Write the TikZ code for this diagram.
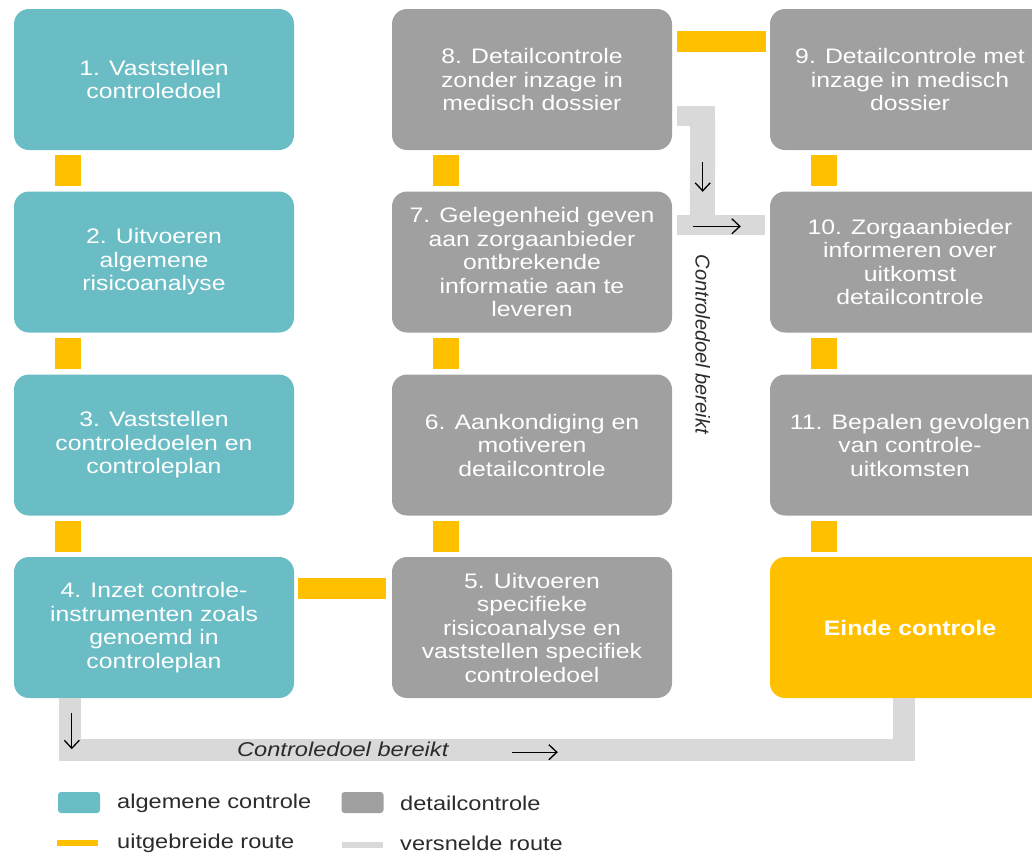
\documentclass[tikz,border=0pt]{standalone}
\usepackage{fontspec}
\setmainfont[FakeStretch=1.18]{Liberation Sans}
\newfontfamily\rechtsans{Liberation Sans}
\usepackage[dvipsnames]{xcolor}
\usepackage{tikz}
\usetikzlibrary{calc}
\usetikzlibrary{arrows, arrows.meta, positioning}

\definecolor{algcol}{HTML}{6BBDC5}
\definecolor{detcol}{HTML}{A0A0A0}
\definecolor{uitcol}{HTML}{FFC000}
\definecolor{verscol}{HTML}{D9D9D9}
\definecolor{legtekst}{HTML}{2B2B2B}

\tikzset{
  stap/.style={rounded corners=15pt, minimum width=280pt, minimum height=141pt,
    align=center, text=white, inner sep=2pt, font=\fontsize{21}{23.5}\selectfont},
  alg/.style={stap, fill=algcol},
  det/.style={stap, fill=detcol},
  einde/.style={stap, fill=uitcol, font=\fontsize{21}{23.5}\selectfont\bfseries},
  uitroute/.style={draw=uitcol, line width=#1},
  uitroute/.default=21pt,
  versroute/.style={draw=verscol, line width=#1},
  versroute/.default=21pt,
  pijl/.style={-{Straight Barb[length=8pt, width=15pt]}, line width=1.3pt, black},
  legvak/.style={rounded corners=3pt, minimum width=42pt, minimum height=21pt, inner sep=0pt},
  legtxt/.style={anchor=west, inner sep=0pt, text=legtekst, font=\fontsize{20}{22}\selectfont}
}

\begin{document}
\begin{tikzpicture}[x=1pt, y=-1pt]
				% Columns and rows
				\def\ka{154}
				\def\kb{532}
				\def\kc{910}
				\def\ra{79.5}
				\def\rb{262}
				\def\rc{445}
				\def\rd{627.5}
				
				\useasboundingbox (0,0) rectangle (1032,855);
				\clip (0,0) rectangle (1032,855);
				
				% Algemene controle
				\node[alg] (b1) at (\ka,\ra) {1. Vaststellen\\controledoel};
				\node[alg] (b2) at (\ka,\rb) {2. Uitvoeren\\algemene\\risicoanalyse};
				\node[alg] (b3) at (\ka,\rc) {3. Vaststellen\\controledoelen en\\controleplan};
				\node[alg] (b4) at (\ka,\rd) {4. Inzet controle-\\instrumenten zoals\\genoemd in\\controleplan};
				
				% Detailcontrole
				\node[det] (b5) at (\kb,\rd) {5. Uitvoeren\\specifieke\\risicoanalyse en\\vaststellen specifiek\\controledoel};
				\node[det] (b6) at (\kb,\rc) {6. Aankondiging en\\motiveren\\detailcontrole};
				\node[det] (b7) at (\kb,\rb) {7. Gelegenheid geven\\aan zorgaanbieder\\ontbrekende\\informatie aan te\\leveren};
				\node[det] (b8) at (\kb,\ra) {8. Detailcontrole\\zonder inzage in\\medisch dossier};
				\node[det] (b9) at (\kc,\ra) {9. Detailcontrole met\\inzage in medisch\\dossier};
				\node[det] (b10) at (\kc,\rb) {10. Zorgaanbieder\\informeren over\\uitkomst\\detailcontrole};
				\node[det] (b11) at (\kc,\rc) {11. Bepalen gevolgen\\van controle-\\uitkomsten};
				\node[einde] (eind) at (\kc,\rd) {Einde controle};
				
				% Uitgebreide route
				\draw[uitroute=26pt] ($(b1.south west)+(54,5)$) -- ($(b2.north west)+(54,-5)$);
				\draw[uitroute=26pt] ($(b2.south west)+(54,5)$) -- ($(b3.north west)+(54,-5)$);
				\draw[uitroute=26pt] ($(b3.south west)+(54,5)$) -- ($(b4.north west)+(54,-5)$);
				\draw[uitroute] ($(b4.north east)+(4,31.5)$) -- ($(b5.north west)+(-6,31.5)$);
				\draw[uitroute=26pt] ($(b5.north west)+(54,-5)$) -- ($(b6.south west)+(54,5)$);
				\draw[uitroute=26pt] ($(b6.north west)+(54,-5)$) -- ($(b7.south west)+(54,5)$);
				\draw[uitroute=26pt] ($(b7.north west)+(54,-5)$) -- ($(b8.south west)+(54,5)$);
				\draw[uitroute] ($(b8.north east)+(5,32.5)$) -- ($(b9.north west)+(-4,32.5)$);
				\draw[uitroute=26pt] ($(b9.south west)+(54,5)$) -- ($(b10.north west)+(54,-5)$);
				\draw[uitroute=26pt] ($(b10.south west)+(54,5)$) -- ($(b11.north west)+(54,-5)$);
				\draw[uitroute=26pt] ($(b11.south west)+(54,5)$) -- ($(eind.north west)+(54,-5)$);
				
				% Versnelde route van 8 naar 10
				\coordinate (v8) at ($(b8.north east)+(5,107)$);
				\coordinate (v10) at ($(b10.north west)+(-5,34)$);
				\draw[versroute=20pt] (v8) -- ++(38,0);
				\draw[versroute=25pt] ($(v8)+(25.5,0)$) -- ($(v10)+(-62.5,0)$);
				\draw[versroute=20pt] ($(v10)+(-88,0)$) -- (v10);
				\draw[pijl] ($(v8)+(25.5,46)$) -- ++(0,30);
				\draw[pijl] ($(v10)+(-72,1)$) -- ++(48,0);
				\node[rotate=-90, font=\rechtsans\fontsize{20}{22}\selectfont\itshape, text=legtekst]
				  (doel1) at ($(v10)+(-62,119)$) {Controledoel bereikt};
				
				% Versnelde route van 4 naar einde
				\coordinate (r4) at ($(b4.south west)+(56,0)$);
				\coordinate (re) at ($(eind.south west)+(134,0)$);
				\draw[versroute=22pt] (r4) -- ++(0,52) -| (re);
				\draw[pijl] ($(r4)+(2,15)$) -- ++(0,36);
				\draw[pijl] ($(r4)+(442,54)$) -- ++(46,0);
				\node[font=\fontsize{20}{22}\selectfont\itshape, text=legtekst, inner sep=0pt]
				  (doel2) at ($(r4)+(273,51)$) {Controledoel bereikt};
				
				% Legenda
				\node[legvak, fill=algcol] (legalg) at (79,802.5) {};
				\node[legtxt] (legalgt) at (117,803) {algemene controle};
				\node[legvak, fill=detcol] (legdet) at (362.5,802.5) {};
				\node[legtxt] (legdett) at (400,803) {detailcontrole};
				\draw[uitroute=6pt] (57,843) -- (98,843);
				\node[legtxt] (leguitt) at (117,843) {uitgebreide route};
				\draw[versroute=6pt] (342,845) -- (383,845);
				\node[legtxt] (legverst) at (400,843) {versnelde route};
			\end{tikzpicture}
\end{document}
